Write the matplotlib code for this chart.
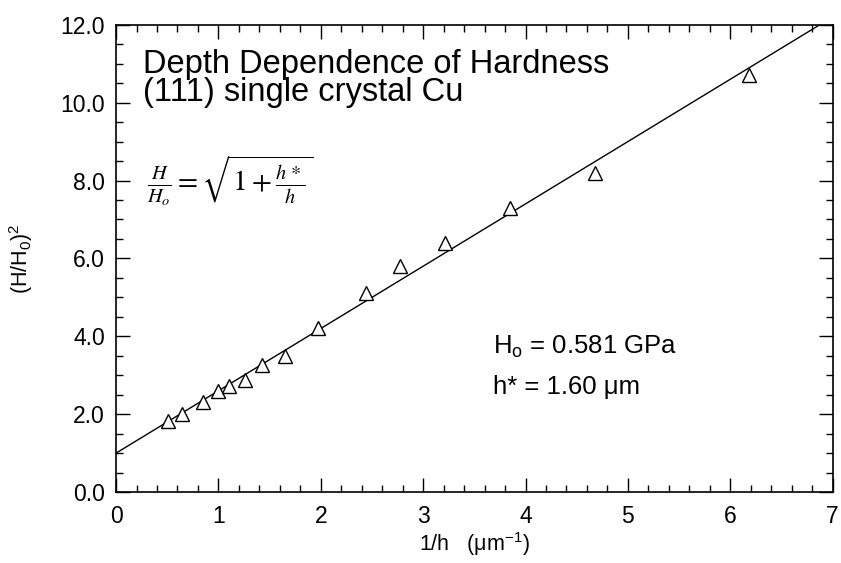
import numpy as np
import matplotlib
matplotlib.use("Agg")
import matplotlib.pyplot as plt
from matplotlib.ticker import MultipleLocator, FormatStrFormatter

plt.rcParams['font.family'] = ['Liberation Sans', 'DejaVu Sans']
plt.rcParams['mathtext.fontset'] = 'custom'
plt.rcParams['mathtext.rm'] = 'Liberation Sans'
plt.rcParams['mathtext.it'] = 'Liberation Sans:italic'

# measured points, 1/h in um^-1 vs (H/H0)^2
inv_h = [0.51, 0.64, 0.85, 1.00, 1.10, 1.26, 1.43, 1.65, 1.97, 2.44, 2.77, 3.21, 3.85, 4.68, 6.18]
h_ratio_sq = [1.82, 2.00, 2.30, 2.60, 2.72, 2.87, 3.27, 3.50, 4.22, 5.10, 5.80, 6.40, 7.30, 8.20, 10.70]

# Nix-Gao fit: (H/H0)^2 = 1 + h*/h
h_star = 1.60
H0 = 0.581
fit_x = np.array([0.0, 7.0])
fit_y = 1 + h_star * fit_x

fig = plt.figure(figsize=(8.41, 5.63), dpi=100)
ax = fig.add_axes([0.138, 0.126, 0.852, 0.830])

ax.plot(fit_x, fit_y, color='black', lw=1.0)
ax.plot(inv_h, h_ratio_sq, linestyle='none', marker='^', ms=10,
        markerfacecolor='white', markeredgecolor='black', mew=1.0)

ax.set_xlim(0, 7)
ax.set_ylim(0, 12)
ax.xaxis.set_major_locator(MultipleLocator(1))
ax.xaxis.set_minor_locator(MultipleLocator(0.2))
ax.yaxis.set_major_locator(MultipleLocator(2))
ax.yaxis.set_minor_locator(MultipleLocator(0.5))
ax.yaxis.set_major_formatter(FormatStrFormatter('%.1f'))
ax.tick_params(which='both', direction='in', top=True, right=True, labelsize=16.5, width=1.0)
ax.tick_params(which='major', length=10)
ax.tick_params(axis='y', which='major', pad=8)
ax.tick_params(axis='x', which='major', pad=9)
ax.tick_params(which='minor', length=5)
for s in ax.spines.values():
    s.set_linewidth(1.2)

ax.set_xlabel('1/h   (\u03bcm$^{-1}$)', fontsize=15.5, labelpad=2)
ax.set_ylabel(r'(H/H$_0$)$^2$', fontsize=15.5, labelpad=18)

ax.text(0.26, 10.62, 'Depth Dependence of Hardness\n(111) single crystal Cu',
        fontsize=23.5, va='center', ha='left', linespacing=0.88)

ax.text(0.3, 8.0, r'$\frac{H}{H_o} = \sqrt{\mathit{1}+\frac{h\,*}{h}}$',
        fontsize=21, va='center', ha='left', family='DejaVu Serif',
        math_fontfamily='stix')

ax.text(3.68, 3.72, r'H$_{\mathrm{o}}$ = %.3f GPa' % H0, fontsize=18.5, va='center')
ax.text(3.68, 2.7, 'h* = %.2f \u03bcm' % h_star, fontsize=18.5, va='center')

fig.savefig('out.png', dpi=100)
